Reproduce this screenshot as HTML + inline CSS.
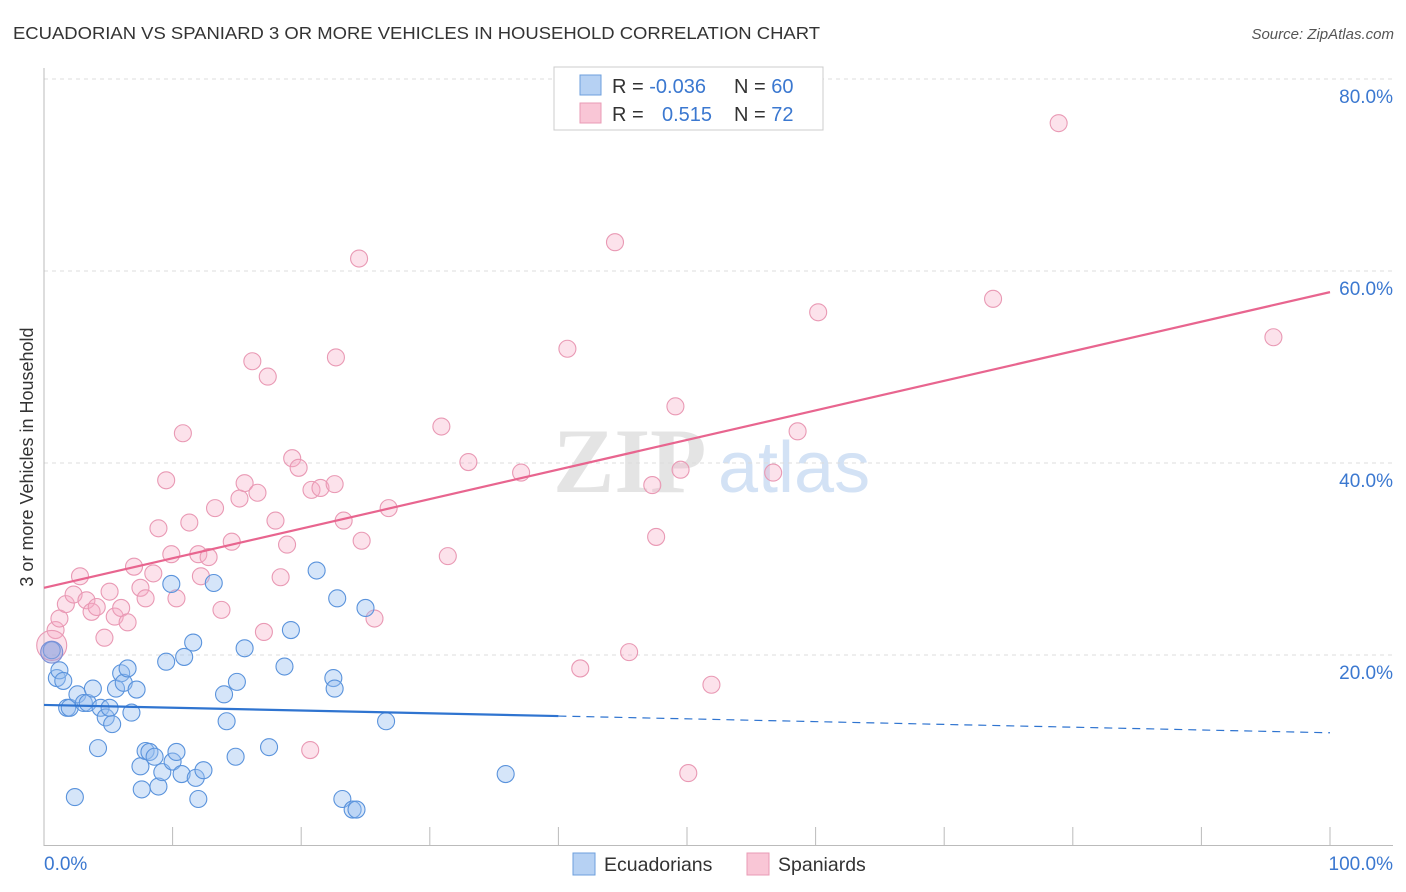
<!DOCTYPE html>
<html><head><meta charset="utf-8"><style>
body{margin:0;background:#fff;font-family:"Liberation Sans",sans-serif;}
svg{display:block}
</style></head><body>
<svg id="chart" width="1406" height="892" viewBox="0 0 1406 892">
<text x="13" y="39" font-size="17.5" fill="#333" textLength="807" lengthAdjust="spacingAndGlyphs">ECUADORIAN VS SPANIARD 3 OR MORE VEHICLES IN HOUSEHOLD CORRELATION CHART</text>
<text x="1394" y="39" font-size="15" fill="#555" font-style="italic" text-anchor="end">Source: ZipAtlas.com</text>
<text transform="translate(33,457) rotate(-90)" font-size="18" fill="#333" text-anchor="middle">3 or more Vehicles in Household</text>
<g>
<text x="553" y="492" font-size="92" font-family="Liberation Serif,serif" fill="#e4e4e4" font-weight="bold">ZIP</text>
<text x="718" y="492" font-size="72" fill="#d3e2f5">atlas</text>
</g>
<g id="grid"></g>
<g id="axes"></g>
<g id="marks"></g>
<g id="trend"></g>
<g>
<rect x="554" y="67" width="269" height="63" fill="#fff" stroke="#ccc"/>
<rect x="580" y="75" width="21" height="20" fill="#b6d1f3" stroke="#6d9fdc"/>
<rect x="580" y="103" width="21" height="20" fill="#f9c6d6" stroke="#e99bb5"/>
<text x="612" y="93" font-size="20" fill="#333">R = <tspan fill="#3b78d0">-0.036</tspan><tspan x="734">N = </tspan><tspan fill="#3b78d0">60</tspan></text>
<text x="612" y="121" font-size="20" fill="#333">R = <tspan x="662" fill="#3b78d0">0.515</tspan><tspan x="734">N = </tspan><tspan fill="#3b78d0">72</tspan></text>
</g>
<g>
<rect x="573" y="853" width="22" height="22" fill="#b6d1f3" stroke="#6d9fdc"/>
<text x="604" y="871" font-size="19.5" fill="#333">Ecuadorians</text>
<rect x="747" y="853" width="22" height="22" fill="#f9c6d6" stroke="#e99bb5"/>
<text x="778" y="871" font-size="19.5" fill="#333">Spaniards</text>
</g>
</svg>
<script>
const yTicks=[20,40,60,80];
const yTickLabels=["20.0%","40.0%","60.0%","80.0%"];
const xTickLabels=["0.0%","100.0%"];
const blueX=[0.6,1.0,1.2,1.5,1.8,2.0,2.4,2.6,3.1,3.4,3.8,4.2,4.4,4.8,5.1,5.3,5.6,6.0,6.2,6.5,6.8,7.2,7.5,7.6,7.9,8.2,8.6,8.9,9.2,9.5,9.9,10.0,10.3,10.7,10.9,11.6,11.8,12.0,12.4,13.2,14.0,14.2,14.9,15.0,15.6,17.5,18.7,19.2,21.2,22.5,22.6,22.8,23.2,24.0,24.3,25.0,26.6,35.9];
const blueY=[20.5,17.6,18.4,17.3,14.5,14.5,5.2,15.9,15.0,15.0,16.5,10.3,14.5,13.5,14.5,12.8,16.5,18.1,17.1,18.6,14.0,16.4,8.4,6.0,10.0,9.9,9.4,6.3,7.8,19.3,27.4,8.9,9.9,7.6,19.8,21.3,7.2,5.0,8.0,27.5,15.9,13.1,9.4,17.2,20.7,10.4,18.8,22.6,28.8,17.6,16.5,25.9,5.0,3.9,3.9,24.9,13.1,7.6];
const pinkX=[0.9,1.2,1.7,2.3,2.8,3.3,3.7,4.1,4.7,5.1,5.5,6.0,6.5,7.0,7.5,7.9,8.5,8.9,9.5,9.9,10.3,10.8,11.3,12.0,12.2,12.8,13.3,13.8,14.6,15.2,15.6,16.2,16.6,17.1,17.4,18.0,18.4,18.9,19.3,19.8,20.7,20.8,21.5,22.6,22.7,23.3,24.5,24.7,25.7,26.8,30.9,31.4,33.0,37.1,40.7,41.7,44.4,45.5,47.3,47.6,49.1,49.5,50.1,51.9,56.7,58.6,60.2,73.8,78.9,95.6];
const pinkY=[22.6,23.8,25.3,26.3,28.2,25.7,24.5,25.0,21.8,26.6,24.0,24.9,23.4,29.2,27.0,25.9,28.5,33.2,38.2,30.5,25.9,43.1,33.8,30.5,28.2,30.2,35.3,24.7,31.8,36.3,37.9,50.6,36.9,22.4,49.0,34.0,28.1,31.5,40.5,39.5,10.1,37.2,37.4,37.8,51.0,34.0,61.3,31.9,23.8,35.3,43.8,30.3,40.1,39.0,51.9,18.6,63.0,20.3,37.7,32.3,45.9,39.3,7.7,16.9,39.0,43.3,55.7,57.1,75.4,53.1];
const bigX=[0.6,0.6];
const bigY=[21.0,20.3];
const pinkTrend=[27.0,57.8];
const blueTrend=[14.8,11.9];
const blueSolidEnd=40;

const NS="http://www.w3.org/2000/svg";
const X0=44,X1=1330,Y0=847,PY=9.6;
const sx=v=>X0+(X1-X0)*v/100;
const sy=v=>Y0-v*PY;
function mk(tag,attrs,parent){const e=document.createElementNS(NS,tag);for(const k in attrs)e.setAttribute(k,attrs[k]);parent.appendChild(e);return e;}
const grid=document.getElementById('grid'),axes=document.getElementById('axes'),marks=document.getElementById('marks'),trend=document.getElementById('trend');
yTicks.forEach((t,i)=>{
  const l=mk('line',{x1:44,x2:1393,y1:sy(t),y2:sy(t),stroke:'#dcdcdc','stroke-dasharray':'4,4'},grid);
  
  
  const tx=mk('text',{x:1393,y:sy(t)+24,'font-size':19,fill:'#3b78d0','text-anchor':'end'},axes);
  tx.textContent=yTickLabels[i];
  
  
});
let a=mk('line',{x1:44,x2:44,y1:68,y2:846,stroke:'#bbb'},axes);


a=mk('line',{x1:44,x2:1393,y1:845.5,y2:845.5,stroke:'#bbb'},axes);


for(let k=1;k<=10;k++){
  const t=mk('line',{x1:sx(k*10),x2:sx(k*10),y1:827,y2:845,stroke:'#bbb'},axes);
  
  
}
let xl=mk('text',{x:44,y:870,'font-size':19,fill:'#3b78d0'},axes);xl.textContent=xTickLabels[0];


xl=mk('text',{x:1393,y:870,'font-size':19,fill:'#3b78d0','text-anchor':'end'},axes);xl.textContent=xTickLabels[1];



pinkX.forEach((v,i)=>{
  const c=mk('circle',{cx:sx(v),cy:sy(pinkY[i]),r:8.5,fill:'rgba(245,172,197,0.35)',stroke:'#e999b4','stroke-width':1.1},marks);
  
  
});
let bc=mk('circle',{cx:sx(bigX[0]),cy:sy(bigY[0]),r:15,fill:'rgba(245,172,197,0.35)',stroke:'#e999b4','stroke-width':1.1},marks);


blueX.forEach((v,i)=>{
  const c=mk('circle',{cx:sx(v),cy:sy(blueY[i]),r:8.5,fill:'rgba(150,190,240,0.4)',stroke:'#5a93dc','stroke-width':1.1},marks);
  
  
});
bc=mk('circle',{cx:sx(bigX[1]),cy:sy(bigY[1]),r:11,fill:'rgba(150,160,220,0.5)',stroke:'#7a8fd6','stroke-width':1.1},marks);



const pt=mk('line',{x1:sx(0),y1:sy(pinkTrend[0]),x2:sx(100),y2:sy(pinkTrend[1]),stroke:'#e8658f','stroke-width':2.2},trend);


const bAt=v=>blueTrend[0]+(blueTrend[1]-blueTrend[0])*v/100;
const bt=mk('line',{x1:sx(0),y1:sy(blueTrend[0]),x2:sx(blueSolidEnd),y2:sy(bAt(blueSolidEnd)),stroke:'#2f74d0','stroke-width':2.2},trend);


const bd=mk('line',{x1:sx(blueSolidEnd),y1:sy(bAt(blueSolidEnd)),x2:sx(100),y2:sy(blueTrend[1]),stroke:'#2f74d0','stroke-width':1.2,'stroke-dasharray':'8,6'},trend);


</script>
</body></html>
